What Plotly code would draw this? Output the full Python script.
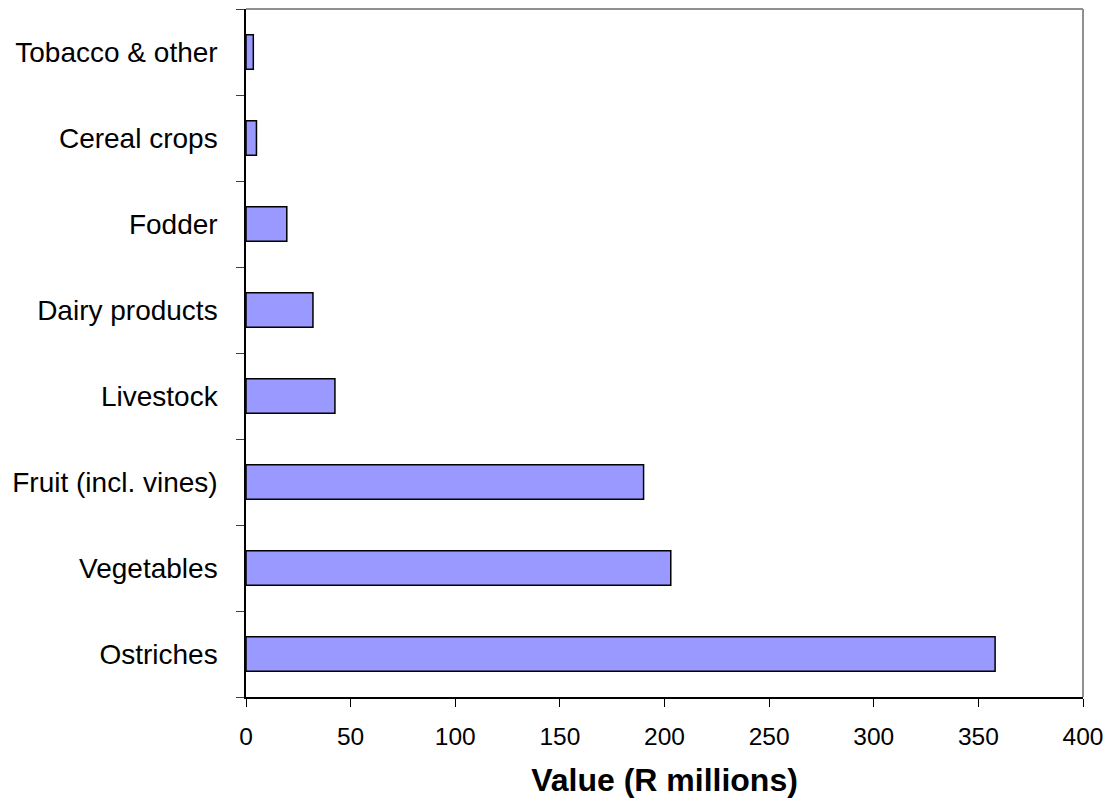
import plotly.graph_objects as go

categories = ["Ostriches", "Vegetables", "Fruit (incl. vines)", "Livestock",
              "Dairy products", "Fodder", "Cereal crops", "Tobacco & other"]
values = [358, 203, 190, 42.5, 32, 19.5, 5, 3.5]
x_ticks = [0, 50, 100, 150, 200, 250, 300, 350, 400]

fig = go.Figure()
fig.add_trace(go.Bar(
    y=categories, x=values, orientation="h", width=0.4,
    marker=dict(color="#9999FF", line=dict(color="black", width=1.5)),
))

fig.update_layout(
    width=1112, height=801,
    margin=dict(l=246, r=26, t=9, b=103),
    plot_bgcolor="white", paper_bgcolor="white",
    showlegend=False,
    font=dict(family="Liberation Sans, Arial, sans-serif", color="black"),
    xaxis=dict(
        range=[0, 400], tickvals=x_ticks, showgrid=False, zeroline=False,
        showline=True, linecolor="black", linewidth=1.5,
        ticks="outside", ticklen=8, tickcolor="black", tickwidth=1,
        tickfont=dict(size=24.5), ticklabelstandoff=9,
        title=dict(text="<b>Value (R millions)</b>", font=dict(size=32), standoff=19),
    ),
    yaxis=dict(
        type="category", range=[-0.5, 7.5], showgrid=False, zeroline=False,
        showline=True, linecolor="black", linewidth=1.5,
        ticks="outside", tickson="boundaries", ticklen=8, tickcolor="#404040",
        tickwidth=1, tickfont=dict(size=28), ticklabelstandoff=21,
    ),
    shapes=[
        dict(type="line", xref="paper", yref="paper", x0=0, x1=1, y0=1, y1=1,
             line=dict(color="#909090", width=2)),
        dict(type="line", xref="paper", yref="paper", x0=1, x1=1, y0=0, y1=1,
             line=dict(color="#909090", width=2)),
    ],
)

fig.write_html("out.html")
